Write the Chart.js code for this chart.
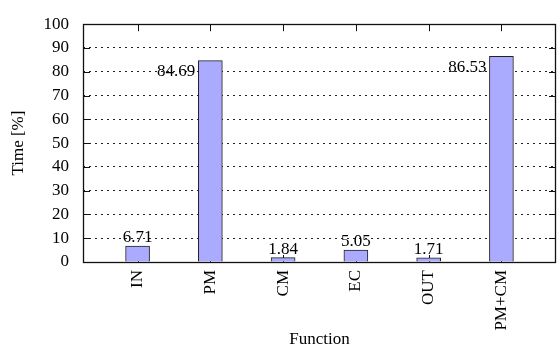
<!DOCTYPE html>
<html>
<head>
<meta charset="utf-8">
<script src="https://cdn.jsdelivr.net/npm/chart.js@4/dist/chart.umd.min.js"></script>
<style>
  html, body { margin: 0; padding: 0; background: #fff; }
  #wrap { width: 557px; height: 346px; position: relative; }
</style>
</head>
<body>
<div id="wrap"><canvas id="c" width="557" height="346"></canvas></div>
<script>
// ---- data ----
const categories = ['IN', 'PM', 'CM', 'EC', 'OUT', 'PM+CM'];
const timePercent = [6.71, 84.69, 1.84, 5.05, 1.71, 86.53];
const yTicks = [0, 10, 20, 30, 40, 50, 60, 70, 80, 90, 100];
const xTitle = 'Function';
const yTitle = 'Time [%]';

const FONT = "'Liberation Serif', 'DejaVu Serif', serif";
const FS = 17;
const TICK_LEN = 7;

const framePlugin = {
  id: 'frame',
  beforeDatasetsDraw(chart) {
    const ctx = chart.ctx, a = chart.chartArea;
    const ys = chart.scales.y, xs = chart.scales.x;
    ctx.save();
    ctx.strokeStyle = '#111';
    ctx.lineWidth = 1;
    ctx.beginPath();
    yTicks.forEach(v => {
      if (v === yTicks[0] || v === yTicks[yTicks.length - 1]) return;
      const py = Math.round(ys.getPixelForValue(v)) + 0.5;
      ctx.moveTo(a.left, py); ctx.lineTo(a.left + TICK_LEN, py);
      ctx.moveTo(a.right, py); ctx.lineTo(a.right - TICK_LEN, py);
    });
    categories.forEach((c, i) => {
      const px = Math.round(xs.getPixelForValue(i)) + 0.5;
      ctx.moveTo(px, a.top); ctx.lineTo(px, a.top + TICK_LEN);
      ctx.moveTo(px, a.bottom); ctx.lineTo(px, a.bottom - TICK_LEN);
    });
    ctx.stroke();
    ctx.restore();
  },
  afterDatasetsDraw(chart) {
    const ctx = chart.ctx, a = chart.chartArea;
    ctx.save();
    ctx.strokeStyle = '#111';
    ctx.lineWidth = 1.3;
    ctx.strokeRect(Math.round(a.left) + 0.5, Math.round(a.top) + 0.5,
                   Math.round(a.right - a.left) - 1, Math.round(a.bottom - a.top));
    // value labels
    const meta = chart.getDatasetMeta(0);
    ctx.fillStyle = '#000';
    ctx.font = FS + 'px ' + FONT;
    meta.data.forEach((bar, i) => {
      const v = timePercent[i];
      const txt = v.toFixed(2);
      if (v > 50) {
        ctx.textAlign = 'right';
        ctx.textBaseline = 'middle';
        ctx.fillText(txt, bar.x - bar.width / 2 - 3, bar.y + 11);
      } else {
        ctx.textAlign = 'center';
        ctx.textBaseline = 'bottom';
        ctx.fillText(txt, bar.x, bar.y);
      }
    });
    ctx.restore();
  }
};

new Chart(document.getElementById('c'), {
  type: 'bar',
  data: {
    datasets: [{
      data: timePercent.map((v, i) => ({ x: i, y: v })),
      backgroundColor: '#aaaaff',
      borderColor: '#222',
      borderWidth: 1,
      barThickness: 24
    }]
  },
  options: {
    responsive: false,
    animation: false,
    devicePixelRatio: 1,
    layout: { padding: { top: 17, right: 1, left: 0, bottom: 0 } },
    plugins: { legend: { display: false }, tooltip: { enabled: false } },
    scales: {
      x: {
        type: 'linear',
        offset: false,
        min: -0.75,
        max: 5.75,
        afterBuildTicks: s => { s.ticks = categories.map((c, i) => ({ value: i })); },
        afterFit: s => { s.height = 84; },
        grid: { display: false, drawTicks: false, offset: false },
        border: { display: false },
        ticks: {
          callback: (v) => categories[v] ?? '',
          minRotation: 90, maxRotation: 90, autoSkip: false,
          padding: 8,
          color: '#000',
          font: { family: FONT, size: FS }
        },
        title: {
          display: true, text: xTitle, color: '#000',
          font: { family: FONT, size: FS, lineHeight: 1 },
          padding: { top: 0, bottom: -2 }
        }
      },
      y: {
        min: 0, max: 100,
        afterBuildTicks: s => { s.ticks = yTicks.map(v => ({ value: v })); },
        afterFit: s => { s.width = 83; },
        grid: {
          drawTicks: false,
          color: c => (c.tick && (c.tick.value === 0 || c.tick.value === 100)) ? 'rgba(0,0,0,0)' : '#222',
          lineWidth: 1
        },
        border: { display: false, dash: [2, 4] },
        ticks: {
          padding: 14, color: '#000',
          font: { family: FONT, size: FS }
        },
        title: {
          display: true, text: yTitle, color: '#000',
          font: { family: FONT, size: FS, lineHeight: 1 },
          padding: { top: 10, bottom: 0 }
        }
      }
    }
  },
  plugins: [framePlugin]
});
</script>
</body>
</html>
